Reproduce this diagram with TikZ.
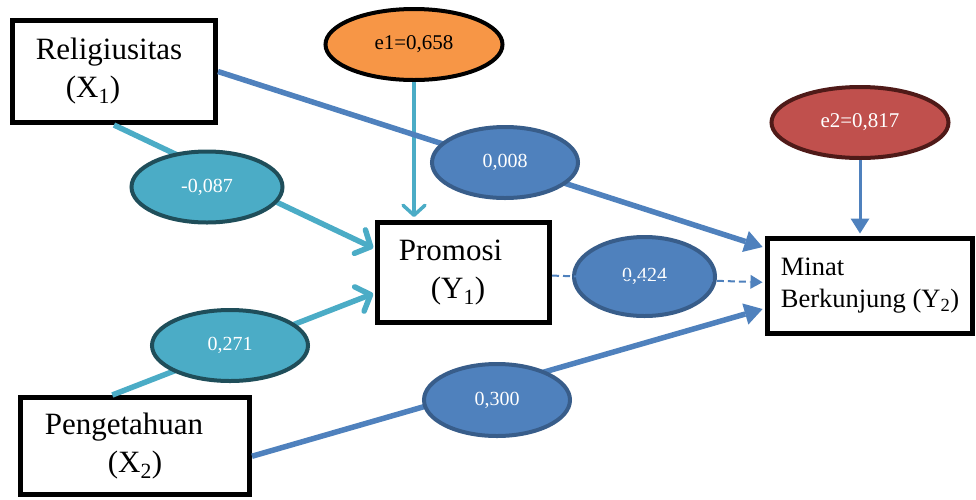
\documentclass[tikz,border=0pt]{standalone}
\usepackage{fontspec}
\setmainfont{Liberation Serif}
\usetikzlibrary{shapes.geometric,arrows.meta}
\definecolor{lblue}{HTML}{4BACC6}
\definecolor{lbluedark}{HTML}{1F4E5A}
\definecolor{mblue}{HTML}{4F81BD}
\definecolor{mbluedark}{HTML}{385D8A}
\definecolor{eorange}{HTML}{F79646}
\definecolor{ered}{HTML}{C0504D}
\definecolor{ereddark}{HTML}{4F1A18}
\tikzset{
  var/.style={draw, line width=5pt, rectangle, inner sep=0pt, align=left,
    font=\fontsize{31}{38}\selectfont},
  coef/.style={ellipse, draw, line width=4pt, inner sep=0pt, text=white,
    font=\fontsize{20}{24}\selectfont},
  err/.style={ellipse, draw, line width=4pt, inner sep=0pt,
    minimum width=177pt, minimum height=71pt, font=\fontsize{21}{24}\selectfont},
  lpath/.style={lblue, line width=5.5pt, shorten >=2pt,
    -{Straight Barb[length=12pt,width=26pt,round]}},
  bpath/.style={mblue, line width=5.5pt, shorten >=2.5pt,
    -{Triangle[length=18pt,width=22pt,line width=0pt]}},
}
\begin{document}
\begin{tikzpicture}[x=1pt, y=1pt]
  \useasboundingbox (0,0) rectangle (976,-499);
  % variables
  \node[var, minimum width=203pt, minimum height=102pt] (relig) at (114,-71.5)
    {Religiusitas\hspace*{10pt}\\\hspace*{30pt}(X\textsubscript{1})};
  \node[var, minimum width=172pt, minimum height=100pt] (promosi) at (463.5,-272.5)
    {Promosi\hspace*{26pt}\\\hspace*{32pt}(Y\textsubscript{1})};
  \node[var, minimum width=229pt, minimum height=97pt] (peng) at (135,-446)
    {Pengetahuan\hspace*{22pt}\\\hspace*{63pt}(X\textsubscript{2})};
  \node[var, minimum width=205pt, minimum height=95pt,
    font=\fontsize{26.5}{32}\selectfont] (minat) at (870,-286)
    {Minat\\Berkunjung (Y\textsubscript{2})};
  % errors
  \node[err, fill=eorange, draw=black] (e1) at (414,-44.5) {e1=0,658};
  \node[err, fill=ered, draw=ereddark, text=white] (e2) at (860,-122.5) {e2=0,817};
  % paths
  \draw[lpath] (relig.south) -- (promosi.165);
  \draw[lpath] (peng.114) -- (promosi.193);
  \draw[lblue, line width=3.5pt, shorten >=3pt,
    -{Straight Barb[length=10pt,width=22pt,round]}] (e1.south) -- (e1.south |- promosi.north);
  \draw[bpath] (relig.east) -- (minat.160);
  \draw[bpath] (peng.355) -- (minat.192);
  \draw[mblue, line width=3pt, shorten >=2.5pt,
    -{Triangle[length=15pt,width=19pt,line width=0pt]}] (e2.south) -- (e2.south |- minat.north);
  % coefficients
  \node[coef, fill=lblue, draw=lbluedark, minimum width=151pt, minimum height=71pt]
    (c1) at (207,-187) {-0,087};
  \node[coef, fill=lblue, draw=lbluedark, minimum width=156pt, minimum height=71pt]
    (c2) at (230,-345.5) {0,271};
  \node[coef, fill=mblue, draw=mbluedark, minimum width=146pt, minimum height=71pt]
    (c3) at (505,-162.5) {0,008};
  \node[coef, fill=mblue, draw=mbluedark, minimum width=141pt, minimum height=79pt]
    (c4) at (644.5,-276.5) {0,424};
  \node[coef, fill=mblue, draw=mbluedark, minimum width=146pt, minimum height=72pt]
    (c5) at (497,-400) {0,300};
  \draw[mblue, line width=2pt, dash pattern=on 7pt off 4pt, shorten >=2.5pt,
    -{Triangle[length=12pt,width=14pt,line width=0pt]}] (promosi.358) -- (minat.178);
\end{tikzpicture}
\end{document}
